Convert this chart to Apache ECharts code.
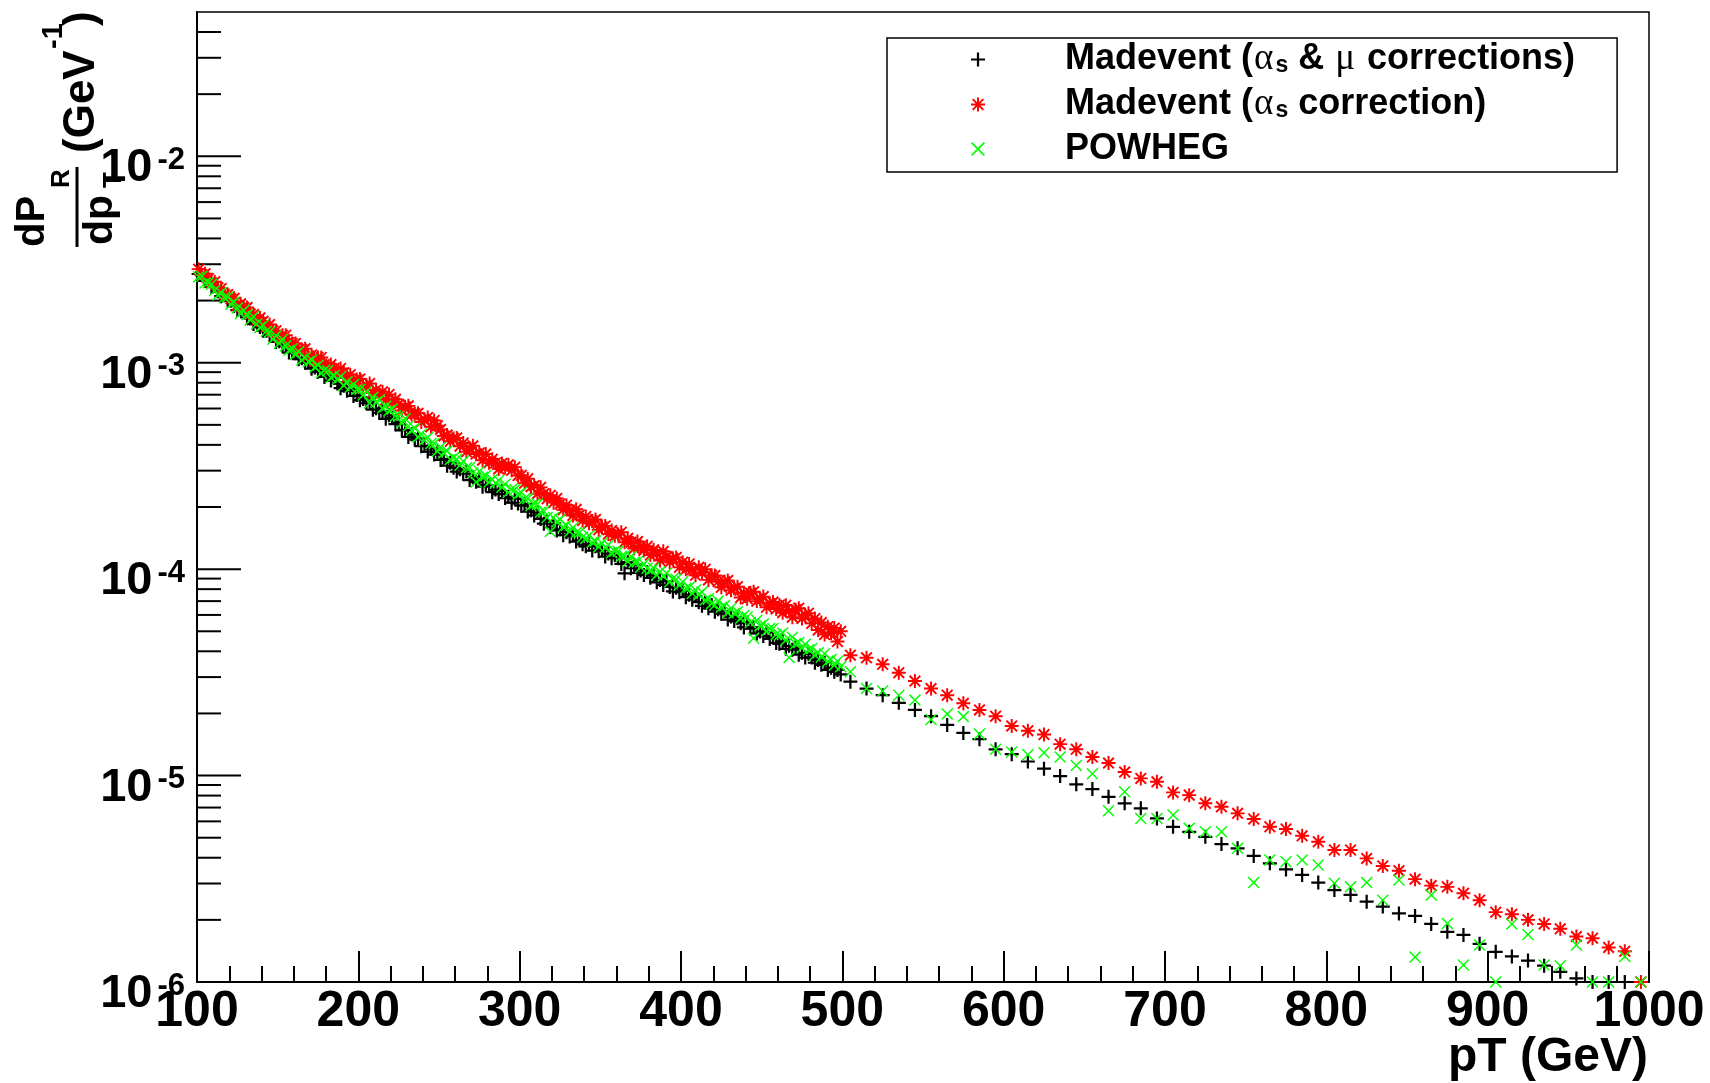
<!DOCTYPE html>
<html>
<head>
<meta charset="utf-8">
<script src="https://cdn.jsdelivr.net/npm/echarts@6/dist/echarts.min.js"></script>
<style>
  html, body { margin: 0; padding: 0; background: #fff; }
  #chart { width: 1710px; height: 1083px; }
</style>
</head>
<body>
<div id="chart"></div>
<script>
// Bin centres in GeV: 2 GeV bins from 100 to 500, 10 GeV bins from 500 to 1000
const ptFine = [
  101,103,105,107,109,111,113,115,117,119, 121,123,125,127,129,131,133,135,137,139,
  141,143,145,147,149,151,153,155,157,159, 161,163,165,167,169,171,173,175,177,179,
  181,183,185,187,189,191,193,195,197,199, 201,203,205,207,209,211,213,215,217,219,
  221,223,225,227,229,231,233,235,237,239, 241,243,245,247,249,251,253,255,257,259,
  261,263,265,267,269,271,273,275,277,279, 281,283,285,287,289,291,293,295,297,299,
  301,303,305,307,309,311,313,315,317,319, 321,323,325,327,329,331,333,335,337,339,
  341,343,345,347,349,351,353,355,357,359, 361,363,365,367,369,371,373,375,377,379,
  381,383,385,387,389,391,393,395,397,399, 401,403,405,407,409,411,413,415,417,419,
  421,423,425,427,429,431,433,435,437,439, 441,443,445,447,449,451,453,455,457,459,
  461,463,465,467,469,471,473,475,477,479, 481,483,485,487,489,491,493,495,497,499
];
const ptCoarse = [
  505,515,525,535,545,555,565,575,585,595, 605,615,625,635,645,655,665,675,685,695,
  705,715,725,735,745,755,765,775,785,795, 805,815,825,835,845,855,865,875,885,895,
  905,915,925,935,945,955,965,975,985,995
];

// dP_R/dp_T (GeV^-1) — Madevent with alpha_s and mu corrections
const muFine = [
  2.69e-3,2.66e-3,2.49e-3,2.48e-3,2.33e-3,2.35e-3,2.22e-3,2.10e-3,2.12e-3,2.00e-3,
  2.00e-3,1.88e-3,1.80e-3,1.81e-3,1.78e-3,1.66e-3,1.64e-3,1.54e-3,1.57e-3,1.49e-3,
  1.43e-3,1.43e-3,1.36e-3,1.37e-3,1.26e-3,1.27e-3,1.21e-3,1.22e-3,1.12e-3,1.14e-3,
  1.11e-3,1.04e-3,1.05e-3,1.00e-3,1.02e-3,9.35e-4,9.48e-4,9.04e-4,9.20e-4,8.53e-4,
  8.77e-4,8.20e-4,8.47e-4,7.93e-4,7.53e-4,7.73e-4,7.31e-4,7.46e-4,6.90e-4,6.98e-4,
  6.58e-4,6.68e-4,6.38e-4,6.49e-4,5.92e-4,6.01e-4,5.71e-4,5.81e-4,5.35e-4,5.56e-4,
  5.41e-4,5.04e-4,5.16e-4,4.70e-4,4.73e-4,4.37e-4,4.50e-4,4.25e-4,4.30e-4,3.94e-4,
  3.96e-4,3.71e-4,3.84e-4,3.59e-4,3.70e-4,3.38e-4,3.42e-4,3.17e-4,3.28e-4,3.10e-4,
  2.97e-4,3.05e-4,2.90e-4,2.98e-4,2.70e-4,2.79e-4,2.65e-4,2.72e-4,2.51e-4,2.56e-4,
  2.55e-4,2.36e-4,2.43e-4,2.31e-4,2.39e-4,2.21e-4,2.24e-4,2.10e-4,2.19e-4,2.08e-4,
  2.03e-4,2.07e-4,1.90e-4,1.93e-4,1.82e-4,1.88e-4,1.75e-4,1.66e-4,1.71e-4,1.60e-4,
  1.65e-4,1.54e-4,1.56e-4,1.46e-4,1.51e-4,1.44e-4,1.48e-4,1.36e-4,1.38e-4,1.32e-4,
  1.29e-4,1.32e-4,1.23e-4,1.29e-4,1.22e-4,1.24e-4,1.15e-4,1.19e-4,1.13e-4,1.17e-4,
  1.13e-4,1.06e-4,9.55e-5,1.08e-4,1.01e-4,1.05e-4,9.59e-5,9.86e-5,9.38e-5,9.68e-5,
  9.08e-5,9.33e-5,8.63e-5,8.87e-5,8.39e-5,8.75e-5,8.20e-5,7.80e-5,8.13e-5,7.73e-5,
  7.87e-5,7.31e-5,7.52e-5,7.11e-5,7.41e-5,6.92e-5,6.64e-5,6.89e-5,6.46e-5,6.70e-5,
  6.22e-5,6.40e-5,6.08e-5,6.25e-5,5.70e-5,5.89e-5,5.60e-5,5.78e-5,5.47e-5,5.22e-5,
  5.50e-5,5.15e-5,5.22e-5,4.88e-5,4.99e-5,4.74e-5,4.94e-5,4.59e-5,4.66e-5,4.39e-5,
  4.35e-5,4.47e-5,4.11e-5,4.25e-5,4.07e-5,4.17e-5,3.85e-5,3.93e-5,3.73e-5,3.89e-5,
  3.73e-5,3.52e-5,3.63e-5,3.44e-5,3.52e-5,3.25e-5,3.33e-5,3.18e-5,3.25e-5,3.09e-5
];
const muCoarse = [
  2.85e-5,2.64e-5,2.45e-5,2.25e-5,2.08e-5,1.94e-5,1.76e-5,1.61e-5,1.50e-5,1.34e-5,
  1.27e-5,1.17e-5,1.08e-5,9.94e-6,9.07e-6,8.60e-6,7.89e-6,7.34e-6,6.94e-6,6.20e-6,
  5.65e-6,5.34e-6,5.05e-6,4.66e-6,4.44e-6,4.08e-6,3.76e-6,3.51e-6,3.30e-6,3.03e-6,
  2.79e-6,2.64e-6,2.45e-6,2.32e-6,2.15e-6,2.09e-6,1.91e-6,1.75e-6,1.69e-6,1.53e-6,
  1.40e-6,1.33e-6,1.27e-6,1.20e-6,1.12e-6,1.04e-6,1.00e-6,1.00e-6,1.00e-6,null
];

// Madevent with alpha_s correction only
const asFine = [
  2.84e-3,2.67e-3,2.70e-3,2.56e-3,2.44e-3,2.47e-3,2.31e-3,2.29e-3,2.14e-3,2.14e-3,
  2.04e-3,2.05e-3,1.90e-3,1.93e-3,1.85e-3,1.85e-3,1.72e-3,1.71e-3,1.61e-3,1.65e-3,
  1.59e-3,1.49e-3,1.53e-3,1.43e-3,1.43e-3,1.33e-3,1.36e-3,1.36e-3,1.25e-3,1.24e-3,
  1.24e-3,1.16e-3,1.16e-3,1.17e-3,1.08e-3,1.09e-3,1.02e-3,1.06e-3,1.06e-3,9.80e-4,
  9.46e-4,9.79e-4,9.40e-4,8.87e-4,9.38e-4,8.93e-4,8.49e-4,8.75e-4,8.20e-4,8.30e-4,
  8.34e-4,7.62e-4,7.76e-4,7.93e-4,7.13e-4,7.38e-4,7.02e-4,7.23e-4,6.62e-4,7.02e-4,
  6.41e-4,6.65e-4,6.30e-4,5.87e-4,6.12e-4,6.18e-4,5.61e-4,5.66e-4,5.69e-4,5.16e-4,
  5.31e-4,5.43e-4,4.89e-4,5.25e-4,4.95e-4,4.75e-4,4.42e-4,4.46e-4,4.16e-4,4.30e-4,
  4.32e-4,3.94e-4,4.08e-4,3.70e-4,3.85e-4,3.96e-4,3.61e-4,3.65e-4,3.37e-4,3.61e-4,
  3.28e-4,3.41e-4,3.27e-4,3.06e-4,3.25e-4,3.10e-4,3.20e-4,3.01e-4,3.12e-4,2.84e-4,
  2.85e-4,2.61e-4,2.74e-4,2.51e-4,2.54e-4,2.32e-4,2.49e-4,2.32e-4,2.19e-4,2.28e-4,
  2.10e-4,2.20e-4,2.07e-4,1.94e-4,2.04e-4,1.93e-4,1.82e-4,1.95e-4,1.83e-4,1.72e-4,
  1.80e-4,1.67e-4,1.71e-4,1.74e-4,1.55e-4,1.60e-4,1.62e-4,1.48e-4,1.54e-4,1.45e-4,
  1.47e-4,1.51e-4,1.35e-4,1.41e-4,1.35e-4,1.26e-4,1.36e-4,1.29e-4,1.23e-4,1.29e-4,
  1.17e-4,1.24e-4,1.19e-4,1.10e-4,1.22e-4,1.15e-4,1.08e-4,1.13e-4,1.14e-4,1.02e-4,
  1.08e-4,9.98e-5,1.06e-4,9.95e-5,9.33e-5,1.02e-4,9.62e-5,1.00e-4,8.87e-5,9.31e-5,
  9.31e-5,8.71e-5,8.17e-5,8.69e-5,8.81e-5,7.91e-5,8.09e-5,8.22e-5,7.29e-5,7.66e-5,
  7.19e-5,7.67e-5,7.78e-5,7.00e-5,7.19e-5,7.36e-5,6.53e-5,6.81e-5,6.93e-5,6.41e-5,
  6.71e-5,6.15e-5,6.68e-5,6.27e-5,5.85e-5,6.35e-5,6.47e-5,5.77e-5,5.98e-5,6.12e-5,
  5.46e-5,5.77e-5,5.07e-5,5.51e-5,4.82e-5,5.26e-5,4.91e-5,5.19e-5,4.46e-5,5.00e-5
];
const asCoarse = [
  3.83e-5,3.72e-5,3.46e-5,3.15e-5,2.87e-5,2.64e-5,2.45e-5,2.24e-5,2.08e-5,1.94e-5,
  1.74e-5,1.65e-5,1.58e-5,1.42e-5,1.34e-5,1.23e-5,1.15e-5,1.04e-5,9.69e-6,9.33e-6,
  8.29e-6,8.04e-6,7.34e-6,7.06e-6,6.56e-6,6.16e-6,5.65e-6,5.51e-6,5.11e-6,4.78e-6,
  4.36e-6,4.36e-6,3.97e-6,3.65e-6,3.46e-6,3.15e-6,2.93e-6,2.89e-6,2.69e-6,2.49e-6,
  2.18e-6,2.13e-6,2.00e-6,1.91e-6,1.81e-6,1.66e-6,1.63e-6,1.47e-6,1.41e-6,1.00e-6
];

// POWHEG
const powhegFine = [
  2.61e-3,2.62e-3,2.43e-3,2.44e-3,2.40e-3,2.24e-3,2.13e-3,2.18e-3,2.07e-3,2.08e-3,
  1.92e-3,1.97e-3,1.84e-3,1.73e-3,1.79e-3,1.71e-3,1.61e-3,1.67e-3,1.54e-3,1.48e-3,
  1.52e-3,1.42e-3,1.41e-3,1.30e-3,1.35e-3,1.24e-3,1.30e-3,1.21e-3,1.15e-3,1.17e-3,
  1.10e-3,1.13e-3,1.03e-3,1.06e-3,1.01e-3,1.03e-3,9.51e-4,9.73e-4,8.91e-4,9.20e-4,
  9.14e-4,8.47e-4,8.67e-4,8.30e-4,8.57e-4,7.76e-4,8.09e-4,7.60e-4,7.85e-4,7.41e-4,
  7.43e-4,6.97e-4,7.23e-4,6.38e-4,6.81e-4,6.44e-4,6.62e-4,6.04e-4,6.15e-4,5.85e-4,
  5.96e-4,5.52e-4,5.51e-4,5.11e-4,5.36e-4,4.94e-4,4.71e-4,4.81e-4,4.36e-4,4.51e-4,
  4.21e-4,4.34e-4,4.06e-4,4.06e-4,3.73e-4,3.90e-4,3.65e-4,3.74e-4,3.40e-4,3.46e-4,
  3.41e-4,3.19e-4,3.33e-4,3.10e-4,3.11e-4,2.92e-4,2.64e-4,2.98e-4,2.79e-4,2.84e-4,
  2.64e-4,2.72e-4,2.61e-4,2.69e-4,2.49e-4,2.58e-4,2.36e-4,2.44e-4,2.43e-4,2.30e-4,
  2.35e-4,2.19e-4,2.20e-4,2.03e-4,2.07e-4,2.06e-4,1.89e-4,1.91e-4,1.78e-4,1.52e-4,
  1.78e-4,1.69e-4,1.74e-4,1.60e-4,1.63e-4,1.52e-4,1.59e-4,1.50e-4,1.50e-4,1.43e-4,
  1.41e-4,1.45e-4,1.35e-4,1.37e-4,1.28e-4,1.34e-4,1.27e-4,1.31e-4,1.20e-4,1.22e-4,
  1.22e-4,1.15e-4,1.16e-4,1.09e-4,1.15e-4,1.08e-4,1.09e-4,1.02e-4,1.06e-4,1.01e-4,
  9.89e-5,1.01e-4,9.38e-5,9.70e-5,9.27e-5,9.55e-5,8.67e-5,9.02e-5,8.93e-5,8.36e-5,
  8.69e-5,8.09e-5,8.18e-5,7.62e-5,7.93e-5,7.52e-5,7.74e-5,7.08e-5,7.19e-5,6.82e-5,
  6.70e-5,7.00e-5,6.53e-5,6.64e-5,6.14e-5,6.47e-5,6.12e-5,6.22e-5,5.78e-5,5.96e-5,
  5.87e-5,5.52e-5,4.63e-5,5.66e-5,5.31e-5,5.42e-5,5.01e-5,5.16e-5,5.16e-5,4.83e-5,
  4.79e-5,4.90e-5,4.53e-5,3.73e-5,4.68e-5,4.35e-5,4.41e-5,4.15e-5,4.33e-5,4.07e-5,
  4.13e-5,3.84e-5,3.94e-5,3.75e-5,3.89e-5,3.58e-5,3.65e-5,3.42e-5,3.58e-5,3.37e-5
];
const powhegCoarse = [
  3.18e-5,2.64e-5,2.57e-5,2.45e-5,2.32e-5,1.87e-5,1.99e-5,1.93e-5,1.59e-5,1.34e-5,
  1.30e-5,1.26e-5,1.29e-5,1.23e-5,1.12e-5,1.02e-5,6.75e-6,8.35e-6,6.20e-6,6.20e-6,
  6.44e-6,5.55e-6,5.34e-6,5.34e-6,4.44e-6,3.03e-6,3.90e-6,3.82e-6,3.90e-6,3.69e-6,
  3.01e-6,2.89e-6,3.03e-6,2.49e-6,3.12e-6,1.32e-6,2.64e-6,1.92e-6,1.21e-6,1.51e-6,
  1.00e-6,1.91e-6,1.70e-6,1.21e-6,1.20e-6,1.51e-6,1.00e-6,1.00e-6,1.33e-6,1.00e-6
];

// Axis ranges and tick layout
const xMin = 100, xMax = 1000, xStep = 100;
const yMin = 1e-6, yMax = 0.05;
const yDecades = [-6, -5, -4, -3, -2];
const yMinorMantissas = [2, 3, 4, 5, 6, 7, 8, 9];

const seriesNames = [
  'Madevent (αs & μ corrections)',
  'Madevent (αs correction)',
  'POWHEG'
];
const legendLabels = [
  '{t|Madevent (}{g|α}{sub|s}{t| & }{g|μ}{t| corrections)}',
  '{t|Madevent (}{g|α}{sub|s}{t| correction)}',
  '{t|POWHEG}'
];

// Marker shapes: plus, asterisk, diagonal cross
const PLUS = 'path://M0,42L100,42L100,58L0,58Z M42,0L58,0L58,100L42,100Z';
const STAR = 'path://M0,43L100,43L100,57L0,57Z M43,0L57,0L57,100L43,100Z ' +
  'M16.9,7.1L92.9,83.1L83.1,92.9L7.1,16.9Z M83.1,7.1L92.9,16.9L16.9,92.9L7.1,83.1Z';
const CROSS = 'path://M0,8.5L8.5,0L100,91.5L91.5,100Z M91.5,0L100,8.5L8.5,100L0,91.5Z';

const FONT = "'Liberation Sans', Arial, Helvetica, sans-serif";

const toPoints = (xs, ys) => xs.map((x, i) => [x, ys[i]]);
const muData = toPoints(ptFine, muFine).concat(toPoints(ptCoarse, muCoarse));
const asData = toPoints(ptFine, asFine).concat(toPoints(ptCoarse, asCoarse));
const powhegData = toPoints(ptFine, powhegFine).concat(toPoints(ptCoarse, powhegCoarse));

// Logarithmic ticks on the vertical axis: [x, value, isMajor]
const yTickData = [];
yDecades.forEach(e => {
  const base = Math.pow(10, e);
  yTickData.push([xMin, base, 1]);
  yMinorMantissas.forEach(m => {
    const v = m * base;
    if (v < yMax) yTickData.push([xMin, v, 0]);
  });
});

const chart = echarts.init(document.getElementById('chart'), null, { renderer: 'canvas' });

const option = {
  animation: false,
  backgroundColor: '#fff',
  grid: {
    left: 197, right: 61, top: 12, bottom: 101,
    containLabel: false,
    outerBoundsMode: 'none',
    show: true,
    borderColor: '#000',
    borderWidth: 1.5,
    backgroundColor: 'transparent'
  },
  legend: {
    orient: 'vertical',
    left: 887,
    top: 38,
    padding: [3, 42, 5, 84],
    itemGap: 8,
    itemWidth: 164,
    itemHeight: 14,
    backgroundColor: '#fff',
    borderColor: '#000',
    borderWidth: 1.5,
    borderRadius: 0,
    data: seriesNames,
    selectedMode: false,
    formatter: name => legendLabels[seriesNames.indexOf(name)],
    textStyle: {
      color: '#000',
      rich: {
        t: { fontFamily: FONT, fontWeight: 'bold', fontSize: 36, lineHeight: 36, color: '#000' },
        g: { fontFamily: "'Liberation Serif', 'DejaVu Serif', serif", fontWeight: 'normal', fontSize: 37, lineHeight: 36, color: '#000', padding: [0, 2, 0, 1] },
        sub: { fontFamily: FONT, fontWeight: 'bold', fontSize: 23, lineHeight: 22, verticalAlign: 'bottom', color: '#000' }
      }
    }
  },
  xAxis: {
    type: 'value',
    min: xMin,
    max: xMax,
    interval: xStep,
    axisLine: { show: true, onZero: false, lineStyle: { color: '#000', width: 2 } },
    axisTick: { show: true, inside: true, length: 31, lineStyle: { color: '#000', width: 2 } },
    minorTick: { show: true, splitNumber: 5, length: 16, lineStyle: { color: '#000', width: 2 } },
    splitLine: { show: false },
    minorSplitLine: { show: false },
    axisLabel: {
      interval: 0,
      margin: 5,
      formatter: value => String(value),
      fontFamily: FONT, fontWeight: 'bold', fontSize: 50, color: '#000'
    }
  },
  yAxis: {
    type: 'log',
    logBase: 10,
    min: yMin,
    max: yMax,
    axisLine: { show: true, lineStyle: { color: '#000', width: 2 } },
    axisTick: { show: false },
    splitLine: { show: false },
    axisLabel: {
      margin: 12,
      showMaxLabel: false,
      padding: [24, 0, 0, 0],
      formatter: value => {
        const e = Math.log10(value);
        const r = Math.round(e);
        if (Math.abs(e - r) > 1e-6) return '';
        return '{b|10}{s|' + r + '}';
      },
      rich: {
        b: { fontFamily: FONT, fontWeight: 'bold', fontSize: 47, lineHeight: 47, verticalAlign: 'bottom', color: '#000' },
        s: { fontFamily: FONT, fontWeight: 'bold', fontSize: 31, lineHeight: 31, verticalAlign: 'top', padding: [0, 0, 24, 5], color: '#000' }
      }
    }
  },
  graphic: [
    {
      // vertical axis title: dP_R / dp_T (GeV^-1), read bottom to top
      type: 'group',
      x: 0,
      y: 250,
      rotation: Math.PI / 2,
      silent: true,
      children: [
        { type: 'text', x: 3, y: 33, style: { text: 'dP', font: 'bold 40px ' + FONT, fill: '#000', align: 'left', verticalAlign: 'middle' } },
        { type: 'text', x: 62, y: 62, style: { text: 'R', font: 'bold 26px ' + FONT, fill: '#000', align: 'left', verticalAlign: 'middle' } },
        { type: 'rect', shape: { x: 3, y: 75.5, width: 80, height: 3 }, style: { fill: '#000' } },
        { type: 'text', x: 5, y: 101, style: { text: 'dp', font: 'bold 41px ' + FONT, fill: '#000', align: 'left', verticalAlign: 'middle' } },
        { type: 'text', x: 62, y: 114, style: { text: 'T', font: 'bold 26px ' + FONT, fill: '#000', align: 'left', verticalAlign: 'middle' } },
        { type: 'text', x: 97, y: 82, style: { text: '(GeV', font: 'bold 44px ' + FONT, fill: '#000', align: 'left', verticalAlign: 'middle' } },
        { type: 'text', x: 201, y: 54, style: { text: '-1', font: 'bold 29px ' + FONT, fill: '#000', align: 'left', verticalAlign: 'middle' } },
        { type: 'text', x: 224, y: 82, style: { text: ')', font: 'bold 44px ' + FONT, fill: '#000', align: 'left', verticalAlign: 'middle' } }
      ]
    },
    {
      // horizontal axis title, right-aligned under the axis end
      type: 'text',
      x: 1648,
      y: 1058,
      silent: true,
      style: { text: 'pT (GeV)', font: 'bold 48px ' + FONT, fill: '#000', align: 'right', verticalAlign: 'middle' }
    }
  ],
  series: [
    {
      name: 'yTicks',
      type: 'custom',
      coordinateSystem: 'cartesian2d',
      silent: true,
      clip: false,
      z: 3,
      data: yTickData,
      encode: { x: 0, y: 1 },
      renderItem: (params, api) => {
        const p = api.coord([api.value(0), api.value(1)]);
        const len = api.value(2) ? 44 : 24;
        return {
          type: 'line',
          shape: { x1: p[0], y1: p[1], x2: p[0] + len, y2: p[1] },
          style: { stroke: '#000', lineWidth: 2 }
        };
      }
    },
    {
      name: seriesNames[0],
      type: 'scatter',
      data: muData,
      symbol: PLUS,
      symbolSize: 14,
      clip: false,
      silent: true,
      itemStyle: { color: '#000000', opacity: 1 },
      z: 4
    },
    {
      name: seriesNames[1],
      type: 'scatter',
      data: asData,
      symbol: STAR,
      symbolSize: 14,
      clip: false,
      silent: true,
      itemStyle: { color: '#ff0000', opacity: 1 },
      z: 5
    },
    {
      name: seriesNames[2],
      type: 'scatter',
      data: powhegData,
      symbol: CROSS,
      symbolSize: 12,
      clip: false,
      silent: true,
      itemStyle: { color: '#00ff00', opacity: 1 },
      z: 6
    }
  ]
};

chart.setOption(option);
</script>
</body>
</html>
